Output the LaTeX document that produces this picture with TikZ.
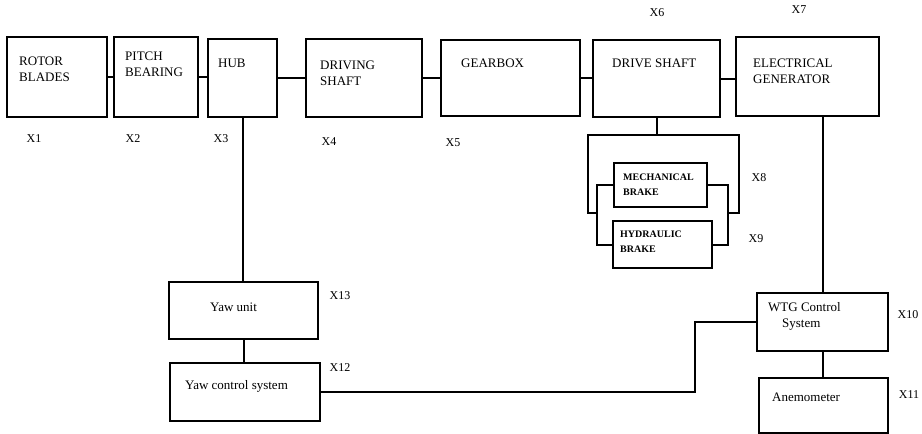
\documentclass[tikz,border=0pt]{standalone}
\usepackage{fontspec}
\setmainfont{Liberation Serif}
\usetikzlibrary{positioning, calc}

\begin{document}
\begin{tikzpicture}[
  x=1pt, y=-1pt,
  block/.style={draw, rectangle, line width=2pt, anchor=north west,
                inner sep=0pt, outer sep=0pt},
  txt/.style={anchor=base west, inner sep=0pt, align=left,
              font=\fontsize{13}{16}\selectfont},
  small/.style={anchor=base west, inner sep=0pt, align=left,
                font=\bfseries\fontsize{10}{14.5}\selectfont},
  tag/.style={anchor=base, inner sep=0pt, font=\fontsize{12}{14}\selectfont},
  wire/.style={line width=2pt}
]
  \useasboundingbox (0,0) rectangle (922,434);

  % drive train
  \node[block, minimum width=100, minimum height=80] (rotor) at (7,37)   {};
  \node[block, minimum width=84,  minimum height=80] (pitch) at (114,37) {};
  \node[block, minimum width=69,  minimum height=78] (hub)   at (208,39) {};
  \node[block, minimum width=116, minimum height=78] (drv)   at (306,39) {};
  \node[block, minimum width=139, minimum height=76] (gear)  at (441,40) {};
  \node[block, minimum width=127, minimum height=77] (shaft) at (593,40) {};
  \node[block, minimum width=143, minimum height=79] (gen)   at (736,37) {};

  % (base = last line)
  \node[txt] (rotortxt) at (19,81)  {ROTOR\\BLADES};
  \node[txt] (pitchtxt) at (125,76) {PITCH\\BEARING};
  \node[txt] (hubtxt)   at (218,67) {HUB};
  \node[txt] (drvtxt)   at (320,85) {DRIVING\\SHAFT};
  \node[txt] (geartxt)  at (461,67) {GEARBOX};
  \node[txt] (shafttxt) at (612,67) {DRIVE SHAFT};
  \node[txt] (gentxt)   at (753,83) {ELECTRICAL\\GENERATOR};

  % brakes
  \node[block, minimum width=93, minimum height=44] (mech) at (614,163) {};
  \node[block, minimum width=99, minimum height=47] (hyd)  at (613,221) {};
  \node[small] (mechtxt) at (623,195) {MECHANICAL\\BRAKE};
  \node[small] (hydtxt)  at (620,252) {HYDRAULIC\\BRAKE};

  % yaw side
  \node[block, minimum width=149, minimum height=57] (yawu) at (169,282) {};
  \node[block, minimum width=150, minimum height=58] (yawc) at (170,363) {};
  \node[txt] (yawutxt) at (210,311) {Yaw unit};
  \node[txt] (yawctxt) at (185,389) {Yaw control system};

  % control side
  \node[block, minimum width=131, minimum height=58] (wtg)  at (757,293) {};
  \node[block, minimum width=129, minimum height=55] (anem) at (759,378) {};
  \node[txt] (wtgtxt)  at (768,327) {WTG Control\\\hspace*{14pt}System};
  \node[txt] (anemtxt) at (772,401) {Anemometer};

  % tags
  \node[tag] (x1)  at (34,142)  {X1};
  \node[tag] (x2)  at (133,142) {X2};
  \node[tag] (x3)  at (221,142) {X3};
  \node[tag] (x4)  at (329,145) {X4};
  \node[tag] (x5)  at (453,146) {X5};
  \node[tag] (x6)  at (657,16)  {X6};
  \node[tag] (x7)  at (799,13)  {X7};
  \node[tag] (x8)  at (759,181) {X8};
  \node[tag] (x9)  at (756,242) {X9};
  \node[tag] (x10) at (908,318) {X10};
  \node[tag] (x11) at (909,398) {X11};
  \node[tag] (x12) at (340,371) {X12};
  \node[tag] (x13) at (340,299) {X13};

  % chain links
  \draw[wire] (rotor.east) -- (rotor.east -| pitch.west);
  \draw[wire] (pitch.east) -- (pitch.east -| hub.west);
  \draw[wire] (hub.east)   -- (hub.east -| drv.west);
  \draw[wire] (drv.east)   -- (drv.east -| gear.west);
  \draw[wire] (gear.east)  -- (gear.east -| shaft.west);
  \draw[wire] (shaft.east) -- (shaft.east -| gen.west);

  % brake frame
  \coordinate (bl) at (588,135);
  \coordinate (br) at (739,135);
  \coordinate (il) at (597,213);
  \coordinate (ir) at (728,213);
  \draw[wire] (shaft.south) -- (shaft.south |- bl);
  \draw[wire] (il) -| (bl) -- (br) |- (ir);
  \draw[wire] (mech.west) -| (il) |- (hyd.west);
  \draw[wire] (mech.east) -| (ir) |- (hyd.east);

  % yaw links
  \draw[wire] (hub.south)  -- (hub.south |- yawu.north);
  \draw[wire] (yawu.south) -- (yawu.south |- yawc.north);
  \coordinate (bend) at (695,392);
  \draw[wire] (yawc.east) -- (bend) |- (wtg.west);

  % control links
  \draw[wire] (wtg.north)  -- (wtg.north |- gen.south);
  \draw[wire] (wtg.south)  -- (wtg.south |- anem.north);
\end{tikzpicture}
\end{document}
